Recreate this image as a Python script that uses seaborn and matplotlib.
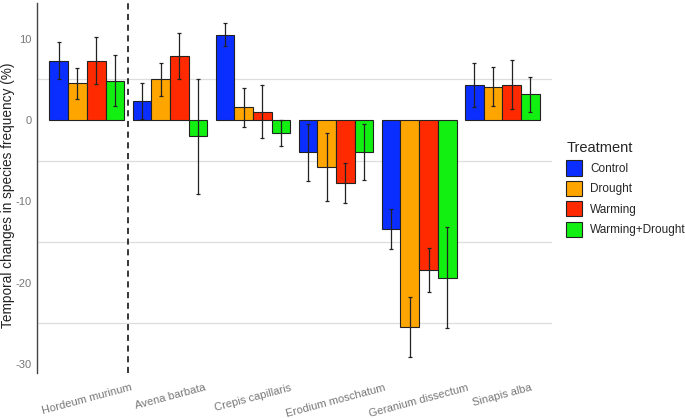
import numpy as np
import pandas as pd
import matplotlib.pyplot as plt
import seaborn as sns

species = ["Hordeum murinum", "Avena barbata", "Crepis capillaris",
           "Erodium moschatum", "Geranium dissectum", "Sinapis alba"]
treatments = ["Control", "Drought", "Warming", "Warming+Drought"]
colors = ["#0A2EFF", "#FFA500", "#FF2A00", "#12F012"]

# mean change per species (rows) and treatment (columns)
means = [
    [7.3, 4.5, 7.3, 4.85],
    [2.35, 5.0, 7.9, -2.0],
    [10.5, 1.55, 1.0, -1.6],
    [-3.95, -5.8, -7.75, -3.95],
    [-13.4, -25.45, -18.5, -19.4],
    [4.3, 4.1, 4.35, 3.15],
]
# half-width of error bars
errs = [
    [2.3, 1.9, 2.9, 3.1],
    [2.2, 2.0, 2.8, 7.1],
    [1.45, 2.4, 3.25, 1.65],
    [3.5, 4.2, 2.5, 3.4],
    [2.5, 3.7, 2.7, 6.2],
    [2.7, 2.4, 3.05, 2.2],
]

df = pd.DataFrame([
    {"Species": s, "Treatment": t, "Change": means[i][j], "Err": errs[i][j]}
    for i, s in enumerate(species) for j, t in enumerate(treatments)
])

sns.set_style("white")
plt.rcParams["font.family"] = ["Liberation Sans", "DejaVu Sans"]
fig = plt.figure(figsize=(6.85, 4.18), dpi=100)
ax = fig.add_axes([0.054, 0.108, 0.752, 0.885])

sns.barplot(data=df, x="Species", y="Change", hue="Treatment",
            hue_order=treatments, palette=colors, errorbar=None, saturation=1,
            width=0.9, edgecolor="#222222", linewidth=0.8, ax=ax)

# error bars at bar centres
for j, t in enumerate(treatments):
    cont = ax.containers[j]
    sub = df[df["Treatment"] == t]
    xs = [p.get_x() + p.get_width() / 2 for p in cont.patches]
    ax.errorbar(xs, sub["Change"], yerr=sub["Err"], fmt="none",
                ecolor="#222222", elinewidth=0.9, capsize=1.5, capthick=0.9, zorder=5)

for y in [5, -5, -15, -25]:
    ax.axhline(y, color="#dddddd", lw=0.9, zorder=0)
ax.axvline(0.5, color="black", ls=(0, (4, 3)), lw=1.1, zorder=4)

ax.set_xlim(-0.6, 5.6)
ax.set_ylim(-31.1, 14.4)
ax.set_yticks([10, 0, -10, -20, -30])
ax.set_yticklabels(["10", "0", "-10", "-20", "-30"])
ax.tick_params(axis="y", labelsize=8, labelcolor="#777777", length=2, color="#555555", pad=2)
ax.tick_params(axis="x", labelsize=8, labelcolor="#777777", length=2, color="#555555", pad=5)
for lab in ax.get_xticklabels():
    lab.set_rotation(15)
    lab.set_ha("center")
ax.set_xlabel("")
ax.set_ylabel("Temporal changes in species frequency (%)", fontsize=9.8, color="#222222")
ax.yaxis.set_label_coords(-0.042, 0.48)

for side in ["top", "right", "bottom"]:
    ax.spines[side].set_visible(False)
ax.spines["left"].set_color("#444444")
ax.spines["left"].set_linewidth(1.0)

leg = ax.legend(title="Treatment", loc="upper left", bbox_to_anchor=(1.0, 0.665),
                frameon=False, fontsize=8.5, title_fontsize=10.5,
                handlelength=1.3, handleheight=1.6, labelspacing=0.45, handletextpad=0.7,
                borderaxespad=0.8)
leg._legend_box.align = "left"

fig.savefig("out.png", dpi=100)
